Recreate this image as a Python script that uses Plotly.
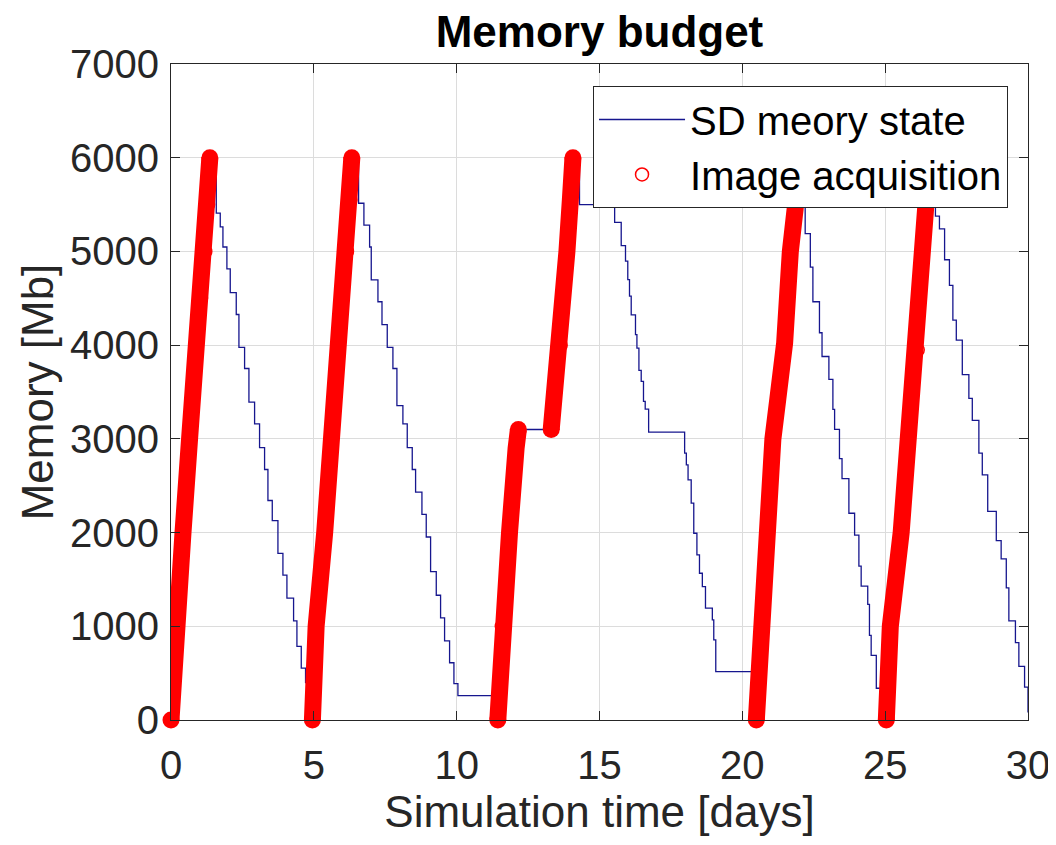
import plotly.graph_objects as go

# ---- axis ticks ----
x_ticks = [0, 5, 10, 15, 20, 25, 30]
y_ticks = [0, 1000, 2000, 3000, 4000, 5000, 6000, 7000]

# ---- image acquisition phases (time [days], memory [Mb]) ----
acq1_t = [0.00, 0.16, 0.42, 0.65, 0.88, 1.05, 1.20, 1.30, 1.36]
acq1_v = [0, 1000, 2000, 3000, 3950, 4500, 5000, 5500, 6000]
acq2_t = [4.95, 5.08, 5.38, 5.62, 5.87, 6.16, 6.28, 6.33]
acq2_v = [0, 1000, 2000, 3000, 3950, 5000, 5550, 6000]
acq3a_t = [11.44, 11.58, 11.85, 12.08, 12.16]
acq3a_v = [0, 1000, 2000, 2900, 3100]
acq3b_t = [13.31, 13.45, 13.64, 13.86, 13.98, 14.07]
acq3b_v = [3100, 3500, 4000, 5000, 5550, 6000]
acq4_t = [20.49, 20.66, 20.84, 21.07, 21.24, 21.48, 21.68, 21.94, 22.05]
acq4_v = [0, 1000, 2000, 3000, 3420, 4020, 5000, 5550, 6000]
acq5_t = [25.04, 25.18, 25.56, 25.82, 26.14, 26.32, 26.46, 26.55]
acq5_v = [0, 1000, 2000, 3000, 3950, 5000, 5550, 6000]

# ---- downlink phases: step levels (start time [days], memory [Mb]) ----
dl1_t = [1.585, 1.724, 1.818, 1.957, 2.074, 2.284, 2.378, 2.576, 2.728, 2.926, 3.100,
         3.276, 3.393, 3.545, 3.743, 3.918, 4.058, 4.291, 4.408, 4.560, 4.710]
dl1_v = [5408, 5261, 5047, 4813, 4560, 4327, 3977, 3751, 3393, 3160, 2907,
         2673, 2342, 2128, 1778, 1545, 1300, 1058, 786, 553, 400]
dl2_t = [6.566, 6.753, 6.952, 7.010, 7.244, 7.386, 7.570, 7.768, 7.908, 8.118, 8.270,
         8.445, 8.562, 8.784, 8.935, 9.087, 9.286, 9.437, 9.577, 9.752, 9.904, 10.044]
dl2_v = [5514, 5280, 5047, 4697, 4463, 4218, 3977, 3751, 3354, 3159, 2907,
         2673, 2432, 2195, 1953, 1584, 1331, 1089, 844, 611, 389, 260]
dl3_t = [14.30, 15.53, 15.76, 15.91, 15.99, 16.05, 16.11, 16.26, 16.31, 16.38, 16.46,
         16.54, 16.60, 16.72, 17.98, 18.04, 18.10, 18.21, 18.30, 18.41, 18.50, 18.60,
         18.71, 18.95, 19.00, 19.07]
dl3_v = [5500, 5311, 5062, 4896, 4700, 4522, 4324, 4112, 3969, 3731, 3613,
         3400, 3318, 3072, 2848, 2723, 2563, 2315, 1993, 1762, 1566, 1424,
         1193, 1068, 854, 516]
dl4_t = [22.20, 22.38, 22.47, 22.70, 22.79, 23.03, 23.17, 23.23, 23.40, 23.49, 23.73,
         23.93, 24.08, 24.16, 24.39, 24.45, 24.51, 24.69]
dl4_v = [5190, 4833, 4463, 4132, 3879, 3634, 3315, 3101, 2790, 2576, 2206,
         1973, 1642, 1428, 1233, 903, 689, 339]
dl5_t = [26.76, 26.90, 27.08, 27.25, 27.37, 27.49, 27.70, 27.93, 28.05, 28.28, 28.40,
         28.59, 28.89, 29.06, 29.24, 29.33, 29.56, 29.68, 29.88, 30.00]
dl5_v = [5377, 5241, 4911, 4638, 4268, 4054, 3685, 3432, 3198, 2848, 2615,
         2226, 1914, 1720, 1409, 1058, 825, 572, 350, 80]

acq_phases = [(acq1_t, acq1_v), (acq2_t, acq2_v), (acq3a_t, acq3a_v),
              (acq3b_t, acq3b_v), (acq4_t, acq4_v), (acq5_t, acq5_v)]
phases = [("acq", acq1_t, acq1_v), ("dl", dl1_t, dl1_v),
          ("acq", acq2_t, acq2_v), ("dl", dl2_t, dl2_v),
          ("acq", acq3a_t, acq3a_v), ("acq", acq3b_t, acq3b_v), ("dl", dl3_t, dl3_v),
          ("acq", acq4_t, acq4_v), ("dl", dl4_t, dl4_v),
          ("acq", acq5_t, acq5_v), ("dl", dl5_t, dl5_v)]

# full memory-state series: linear while acquiring, held levels (steps) otherwise
mem_t, mem_v = [], []
for kind, ts, vs in phases:
    for i, (t, v) in enumerate(zip(ts, vs)):
        if mem_t and (kind == "dl" or i == 0):
            mem_t.append(t)
            mem_v.append(mem_v[-1])
        mem_t.append(t)
        mem_v.append(v)

# acquisition series (gaps between phases); round caps only at phase ends
acq_t, acq_v, cap_size = [], [], []
for ts, vs in acq_phases:
    if acq_t:
        acq_t.append(None)
        acq_v.append(None)
        cap_size.append(0)
    acq_t += ts
    acq_v += vs
    cap_size += [17] + [0] * (len(ts) - 2) + [17]

RED = "#ff0000"
BLUE = "#16168e"
AXC = "#262626"
FONT = "Liberation Sans, Arial, Helvetica, sans-serif"

fig = go.Figure()
fig.add_trace(go.Scatter(
    x=mem_t, y=mem_v, mode="lines", name="SD meory state",
    line=dict(color=BLUE, width=1.3),
))
fig.add_trace(go.Scatter(
    x=acq_t, y=acq_v, mode="lines+markers", showlegend=False, cliponaxis=False,
    line=dict(color=RED, width=17),
    marker=dict(symbol="circle", size=cap_size, color=RED, opacity=1, line=dict(width=0)),
))
fig.add_trace(go.Scatter(
    x=acq_t, y=acq_v, mode="markers", name="Image acquisition",
    marker=dict(symbol="circle-open", size=13, color=RED, opacity=1,
                line=dict(width=1.5, color=RED)),
))

# the page body adds an 8 px offset; margins below compensate for it
fig.update_layout(
    width=1056, height=845,
    margin=dict(l=163, r=36, t=56, b=133),
    paper_bgcolor="white", plot_bgcolor="white",
    font=dict(family=FONT, color=AXC),
    title=dict(text="<b>Memory budget</b>", x=0.5, xref="paper", xanchor="center",
               y=1 - 24 / 845, yref="container", yanchor="middle",
               font=dict(size=44, color="black", family=FONT)),
    legend=dict(x=0.9767, xanchor="right", y=0.9665, yanchor="top",
                bgcolor="white", bordercolor=AXC, borderwidth=1,
                font=dict(size=40, color="black", family=FONT),
                itemwidth=86, tracegroupgap=0),
    showlegend=True,
)
axis_common = dict(
    ticks="inside", ticklen=9, tickcolor=AXC, tickwidth=1,
    showline=True, linecolor=AXC, linewidth=1, mirror="ticks",
    showgrid=True, gridcolor="#dcdcdc", gridwidth=1, zeroline=False,
    tickfont=dict(size=40, color=AXC, family=FONT), automargin=False,
)
fig.update_xaxes(range=[0, 30], tickvals=x_ticks, ticktext=[str(v) for v in x_ticks],
                 ticklabelstandoff=10,
                 title=dict(text="Simulation time [days]", standoff=8,
                            font=dict(size=44, color=AXC, family=FONT)),
                 **axis_common)
fig.update_yaxes(range=[0, 7000], tickvals=y_ticks, ticktext=[str(v) for v in y_ticks],
                 ticklabelstandoff=3,
                 title=dict(text="Memory [Mb]", standoff=2,
                            font=dict(size=44, color=AXC, family=FONT)),
                 **axis_common)

fig.write_html("out.html")
